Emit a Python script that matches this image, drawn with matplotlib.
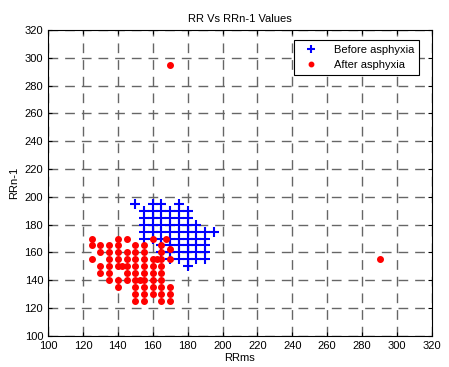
import numpy as np
import matplotlib
matplotlib.use("Agg")
import matplotlib.pyplot as plt

plt.rcParams['font.family'] = ['Liberation Sans', 'DejaVu Sans']

# Before asphyxia: (RR, RRn-1) grid, row by row
before_rows = {
    195: [150, 160, 165, 175],
    190: [155, 160, 165, 170, 175, 180],
    185: [155, 160, 165, 170, 175, 180],
    180: [155, 160, 165, 170, 175, 180, 185],
    175: [155, 160, 165, 170, 175, 180, 185, 190, 195],
    170: [155, 160, 165, 170, 175, 180, 185, 190],
    165: [165, 170, 175, 180, 185, 190],
    160: [165, 170, 175, 180, 185, 190],
    155: [170, 175, 180, 185, 190],
    150: [180],
}

# After asphyxia
after_rows = {
    295: [170],
    170: [125, 140, 145, 160, 167.5],
    165: [125, 130, 135, 140, 150, 155, 165],
    162.5: [170],
    160: [130, 135, 140, 145, 150, 155, 165],
    155: [125, 135, 140, 145, 150, 155, 160, 162.5, 165, 170, 290],
    150: [130, 135, 140, 142.5, 145, 150, 155, 160, 165],
    145: [130, 135, 145, 150, 155, 160, 165],
    140: [135, 140, 145, 150, 152.5, 155, 160, 165],
    135: [140, 150, 155, 160, 165, 170],
    130: [150, 155, 160, 165, 170],
    125: [150, 155, 165, 170],
}

bx = [x for y, xs in before_rows.items() for x in xs]
by = [y for y, xs in before_rows.items() for x in xs]
ax_ = [x for y, xs in after_rows.items() for x in xs]
ay_ = [y for y, xs in after_rows.items() for x in xs]

fig = plt.figure(figsize=(4.49, 3.67), dpi=100)
ax = fig.add_axes([0.107, 0.085, 0.855, 0.833])

ax.plot(bx, by, '+', color='blue', markersize=7, markeredgewidth=1.5,
        linestyle='none', label='Before asphyxia')
ax.plot(ax_, ay_, '.', color='red', markersize=8,
        linestyle='none', label='After asphyxia')

ax.set_xlim(100, 320)
ax.set_ylim(100, 320)
ax.set_xticks(np.arange(100, 321, 20))
ax.set_yticks(np.arange(100, 321, 20))
ax.tick_params(direction='in', top=True, right=True, labelsize=8, length=3)
ax.grid(True, linestyle=(0, (7, 5)), color='#666666', linewidth=1.0)
for s in ax.spines.values():
    s.set_linewidth(0.8)

ax.set_title('RR Vs RRn-1 Values', fontsize=8, pad=6)
ax.set_xlabel('RRms', fontsize=8, labelpad=2)
ax.set_ylabel('RRn-1', fontsize=8, labelpad=4)

leg = ax.legend(loc='upper right', fontsize=8, fancybox=False,
                edgecolor='black', framealpha=1, borderpad=0.4,
                handletextpad=1.0, handlelength=2.2, markerscale=0.8,
                bbox_to_anchor=(0.98, 0.985))
leg.get_frame().set_linewidth(0.8)

fig.savefig('out.png', dpi=100)
